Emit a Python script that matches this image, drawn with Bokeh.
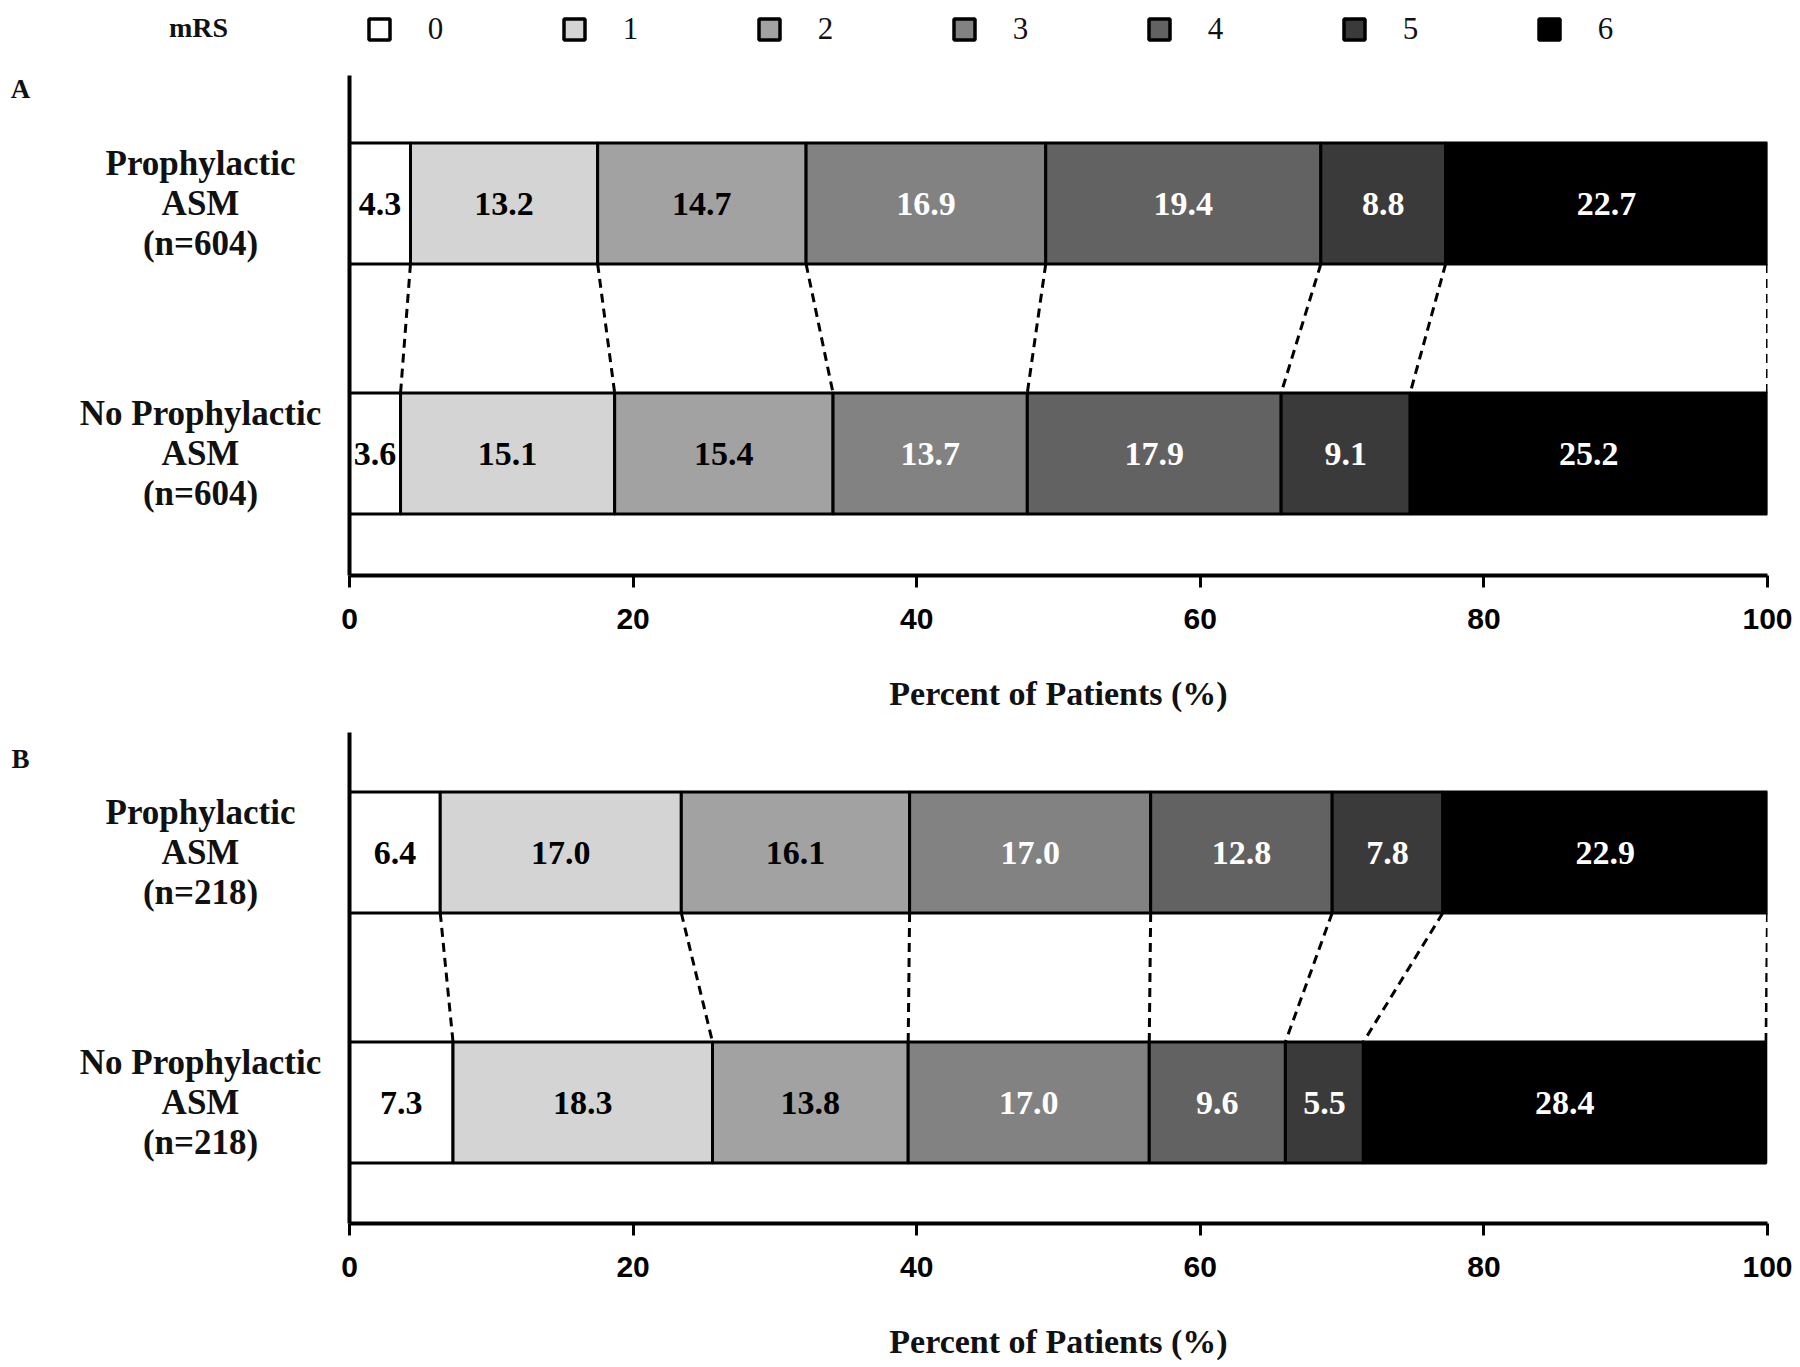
from bokeh.plotting import figure
from bokeh.layouts import column, row
from bokeh.models import Range1d, ColumnDataSource, FixedTicker
from bokeh.embed import file_html
from bokeh.resources import INLINE
from bokeh.core.properties import value

# ---------------- data ----------------
mrs_levels = ["0", "1", "2", "3", "4", "5", "6"]
legend_title = "mRS"

groups_a = ["Prophylactic\nASM\n(n=604)", "No Prophylactic\nASM\n(n=604)"]
a_prophylactic = [4.3, 13.2, 14.7, 16.9, 19.4, 8.8, 22.7]
a_no_prophylactic = [3.6, 15.1, 15.4, 13.7, 17.9, 9.1, 25.2]

groups_b = ["Prophylactic\nASM\n(n=218)", "No Prophylactic\nASM\n(n=218)"]
b_prophylactic = [6.4, 17.0, 16.1, 17.0, 12.8, 7.8, 22.9]
b_no_prophylactic = [7.3, 18.3, 13.8, 17.0, 9.6, 5.5, 28.4]

x_ticks = [0, 20, 40, 60, 80, 100]
x_title = "Percent of Patients (%)"
panel_letters = ["A", "B"]

# ---------------- style / layout ----------------
FILLS = ["#ffffff", "#d4d4d4", "#a2a2a2", "#828282", "#626262", "#3a3a3a", "#000000"]
TEXT_COLORS = ["black", "black", "black", "white", "white", "white", "white"]
SERIF = "Liberation Serif"
SANS = "Liberation Sans"
BAR_H = 0.484
TOTAL_W = 1800
LABEL_W = 339
BAR_W = TOTAL_W - LABEL_W
INNER_LEFT = 10
RIGHT = 33
LEGEND_H = 60


def cumulative(vals):
    out, s = [], 0.0
    for v in vals:
        out.append(s)
        s += v
    return out


def legend_figure():
    p = figure(width=TOTAL_W, height=LEGEND_H, x_range=Range1d(0, TOTAL_W),
               y_range=Range1d(LEGEND_H, 0), output_backend="svg",
               toolbar_location=None, x_axis_location=None, y_axis_location=None,
               min_border=0)
    p.grid.visible = False
    p.outline_line_color = None
    first, step, off = 379, 195, 56
    xs = [first + step * i for i in range(len(mrs_levels))]
    src = ColumnDataSource(dict(x=xs, lx=[x + off for x in xs], y=[29] * len(xs),
                                ly=[28] * len(xs), fill=FILLS, label=mrs_levels))
    p.scatter(x="x", y="y", source=src, marker="square", size=21,
              fill_color="fill", line_color="black", line_width=3.5)
    p.text(x="lx", y="ly", text="label", source=src, text_align="center",
           text_baseline="middle", text_font=value(SERIF),
           text_font_size="31px", text_color="#111111")
    p.text(x=[198], y=[27], text=[legend_title], text_align="center",
           text_baseline="middle", text_font=value(SERIF), text_font_style="bold",
           text_font_size="28px", text_color="#111111")
    return p


def make_panel(groups, top_vals, bot_vals, letter, height, b_top, b_bottom,
               y_start, y_end, letter_drop):
    p = figure(width=BAR_W, height=height, x_range=Range1d(0, 100),
               y_range=Range1d(y_start, y_end), output_backend="svg",
               toolbar_location=None, min_border_left=INNER_LEFT,
               min_border_right=RIGHT, min_border_top=b_top,
               min_border_bottom=b_bottom)
    p.grid.visible = False
    p.outline_line_color = None

    ys = [len(groups) - i for i in range(len(groups))]  # first group on top
    series = [top_vals, bot_vals]
    starts = [cumulative(s) for s in series]

    for k, lvl in enumerate(mrs_levels):
        lefts = [starts[g][k] for g in range(len(groups))]
        vals = [series[g][k] for g in range(len(groups))]
        rights = [l + v for l, v in zip(lefts, vals)]
        src = ColumnDataSource(dict(
            y=ys, left=lefts, right=rights,
            mid=[(l + r) / 2 for l, r in zip(lefts, rights)],
            label=[f"{v:.1f}" for v in vals]))
        p.hbar(y="y", left="left", right="right", height=BAR_H, source=src,
               fill_color=FILLS[k], line_color="black", line_width=3)
        p.text(x="mid", y="y", text="label", source=src,
               text_align="center", text_baseline="middle",
               text_font=value(SERIF), text_font_style="bold",
               text_font_size="34px", text_color=TEXT_COLORS[k])

    # dashed connectors between cumulative boundaries
    ends_top = [s + v for s, v in zip(starts[0], series[0])]
    ends_bot = [s + v for s, v in zip(starts[1], series[1])]
    p.segment(x0=ends_top, y0=[ys[0] - BAR_H / 2] * len(ends_top),
              x1=ends_bot, y1=[ys[1] + BAR_H / 2] * len(ends_bot),
              line_color="black", line_width=3, line_dash="9 6")

    # axes
    p.xaxis.ticker = FixedTicker(ticks=x_ticks)
    p.xaxis.axis_line_width = 4
    p.xaxis.axis_line_color = "black"
    p.xaxis.major_tick_line_width = 3
    p.xaxis.major_tick_line_color = "black"
    p.xaxis.major_tick_out = 12
    p.xaxis.major_tick_in = 0
    p.xaxis.minor_tick_line_color = None
    p.xaxis.major_label_standoff = 21
    p.xaxis.major_label_text_font = SANS
    p.xaxis.major_label_text_font_style = "bold"
    p.xaxis.major_label_text_font_size = "30px"
    p.xaxis.major_label_text_color = "black"
    p.xaxis.axis_label = x_title
    p.xaxis.axis_label_standoff = 43
    p.xaxis.axis_label_text_font = SERIF
    p.xaxis.axis_label_text_font_style = "bold"
    p.xaxis.axis_label_text_font_size = "34px"
    p.xaxis.axis_label_text_color = "#111111"

    p.yaxis.ticker = FixedTicker(ticks=[])
    p.yaxis.axis_line_width = 4
    p.yaxis.axis_line_color = "black"
    p.yaxis.major_tick_line_color = None
    p.yaxis.minor_tick_line_color = None
    p.yaxis.major_label_text_font_size = "0px"
    p.yaxis.major_label_standoff = 0

    # left label column: its frame is aligned with the bar frame by the row
    ppu = (height - b_top - b_bottom) / (y_end - y_start)
    lab = figure(width=LABEL_W, height=height, x_range=Range1d(0, LABEL_W),
                 y_range=Range1d(y_start, y_end),
                 output_backend="svg", toolbar_location=None,
                 x_axis_location=None, y_axis_location=None, min_border=0,
                 min_border_top=b_top, min_border_bottom=b_bottom)
    lab.grid.visible = False
    lab.outline_line_color = None
    lab.text(x=[200] * len(groups), y=ys, text=groups, text_align="center",
             text_baseline="middle", text_font=value(SERIF),
             text_font_style="bold", text_font_size="35px",
             text_line_height=1.03, text_color="#111111")
    lab.text(x=[20], y=[y_end - letter_drop / ppu], text=[letter],
             text_align="center", text_baseline="middle", text_font=value(SERIF),
             text_font_style="bold", text_font_size="27px", text_color="#111111")
    return row(lab, p, spacing=0)


panel_a = make_panel(groups_a, a_prophylactic, a_no_prophylactic, panel_letters[0],
                     658, 15, 143, 0.512, 2.512, 13)
panel_b = make_panel(groups_b, b_prophylactic, b_no_prophylactic, panel_letters[1],
                     649, 14, 144, 0.516, 2.48, 26)

layout = column(legend_figure(), panel_a, panel_b, spacing=0)
open("out.html", "w").write(file_html(layout, INLINE))
